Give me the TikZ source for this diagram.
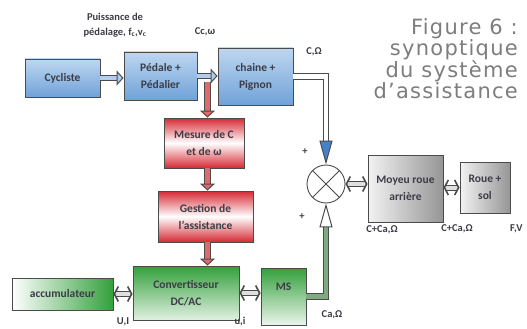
\documentclass[tikz,border=0pt]{standalone}
\usepackage{fontspec}
\setsansfont{Carlito}
\newfontfamily\capfont[LetterSpace=6]{DejaVu Sans}
\usepackage{tikz}
\usetikzlibrary{arrows.meta,calc,positioning}
\definecolor{CycleBlue}{RGB}{112,162,216}
\definecolor{CycleBlueL}{RGB}{190,215,240}
\definecolor{MeasureRed}{RGB}{214,42,52}
\definecolor{PowerGreen}{RGB}{52,160,60}
\definecolor{HubGray}{RGB}{150,150,150}
\definecolor{LineGray}{RGB}{75,75,75}
\definecolor{TextGray}{RGB}{60,60,70}
\definecolor{CapGray}{RGB}{125,125,125}
\definecolor{FlowBlue}{RGB}{70,130,200}
\definecolor{ArrowBlue}{RGB}{178,206,236}
\definecolor{ArrowRed}{RGB}{226,105,105}
\definecolor{ArrowGreen}{RGB}{130,170,130}
\tikzset{
  blockbox/.style={draw=LineGray,line width=0.9pt,align=center,inner sep=2pt,
    font=\sffamily\bfseries\fontsize{11.5}{17}\selectfont,text=TextGray},
  bluebox/.style={blockbox,top color=CycleBlueL,bottom color=CycleBlue},
  redbox/.style={blockbox,top color=MeasureRed,bottom color=MeasureRed,middle color=white},
  greenbox/.style={blockbox,left color=white,right color=PowerGreen},
  graybox/.style={blockbox,left color=gray!10,right color=HubGray},
  sumpt/.style={circle,draw=LineGray,line width=0.9pt,minimum size=38pt,fill=white},
  fatflow/.style={draw=LineGray,line width=1pt,double=#1,double distance=4.5pt,
    -{Triangle[open,fill=#1,length=7pt,width=15pt]}},
  twoway/.style={draw=LineGray,line width=1pt,double=gray!25,double distance=4pt,
    {Straight Barb[length=4pt,width=15pt,line width=1.6pt]}-{Straight Barb[length=4pt,width=15pt,line width=1.6pt]}},
  lbl/.style={font=\sffamily\bfseries\fontsize{10.5}{15}\selectfont,text=TextGray,align=center}
}

\begin{document}
\begin{tikzpicture}[x=1pt,y=-1pt]
  \useasboundingbox (0,0) rectangle (527,329);
  \node[bluebox,minimum width=75pt,minimum height=38pt] (cyc) at (62.5,78) {Cycliste};
  \node[bluebox,minimum width=73pt,minimum height=48pt] (ped) at (160.5,76) {Pédale +\\Pédalier};
  \node[bluebox,minimum width=75pt,minimum height=57pt] (chain) at (255.5,76.5) {chaine +\\Pignon};
  \node[redbox,minimum width=80pt,minimum height=50pt] (mes) at (204,143) {Mesure de C\\et de ω};
  \node[redbox,minimum width=95pt,minimum height=51pt] (gest) at (205.5,216.5) {Gestion de\\l’assistance};
  \node[greenbox,minimum width=101pt,minimum height=32pt] (accu) at (62.5,294) {accumulateur};
  \node[greenbox,top color=PowerGreen,bottom color=PowerGreen!15,minimum width=106pt,minimum height=54pt] (conv) at (186,293) {Convertisseur\\DC/AC};
  \node[greenbox,top color=PowerGreen,bottom color=PowerGreen!10,minimum width=45pt,minimum height=57pt,text depth=20pt] (ms) at (283.5,296.5) {MS};
  \node[sumpt] (sum) at (326,184) {};
  \node[graybox,minimum width=75pt,minimum height=67pt] (hub) at (405.5,188.5) {Moyeu roue\\arrière};
  \node[graybox,minimum width=50pt,minimum height=51pt] (wheel) at (485,187.5) {Roue +\\sol};
  \draw[LineGray,line width=0.9pt] (sum.north east) -- (sum.south west)
    (sum.north west) -- (sum.south east);

  \draw[fatflow=ArrowBlue] (cyc.east) -- (cyc.east -| ped.west);
  \draw[fatflow=ArrowBlue] (ped.east) -- coordinate[pos=0.5] (tap) (ped.east -| chain.west);
  \draw[fatflow=ArrowRed] ([yshift=-6pt]tap) -- (tap |- mes.north);
  \draw[fatflow=ArrowRed] (tap |- mes.south) -- (tap |- gest.north);
  \draw[fatflow=ArrowRed] (tap |- gest.south) -- (tap |- conv.north);
  \draw[fatflow=white,-{Triangle[fill=FlowBlue,length=24pt,width=13pt]}] (chain.east) -| (sum.north);
  \draw[fatflow=ArrowGreen,-{Triangle[open,fill=white,length=24pt,width=13pt]}] (ms.east) -| (sum.south);
  \draw[twoway] (sum.east) -- (sum.east -| hub.west);
  \draw[twoway] (wheel.west) -- (wheel.west -| hub.east);
  \draw[twoway] (accu.east) -- (accu.east -| conv.west);
  \draw[twoway] (conv.east) -- (conv.east -| ms.west);

  \node[lbl] (power) at (115,25) {Puissance de\\pédalage, f\textsubscript{c},v\textsubscript{c}};
  \node[lbl] (ccw) at (205,32) {Cc,ω};
  \node[lbl] (cw) at (314,52) {C,Ω};
  \node[lbl] (plusa) at (305,152) {+};
  \node[lbl] (plusb) at (302,217) {+};
  \node[lbl] (hubout) at (382,230) {C+Ca,Ω};
  \node[lbl] (wheelin) at (457,229) {C+Ca,Ω};
  \node[lbl,anchor=east] (fv) at (526,229) {F,V};
  \node[lbl] (caw) at (332,315) {Ca,Ω};
  \node[lbl] (ui) at (123,322) {U,I};
  \node[lbl] (uim) at (240,322) {u,i};
  \node[text=CapGray,align=right,anchor=north east,inner sep=0pt,
    font=\capfont\fontsize{21}{21}\selectfont] (cap) at (518,18)
    {Figure 6 :\\synoptique\\du système\\d’assistance};
\end{tikzpicture}
\end{document}
